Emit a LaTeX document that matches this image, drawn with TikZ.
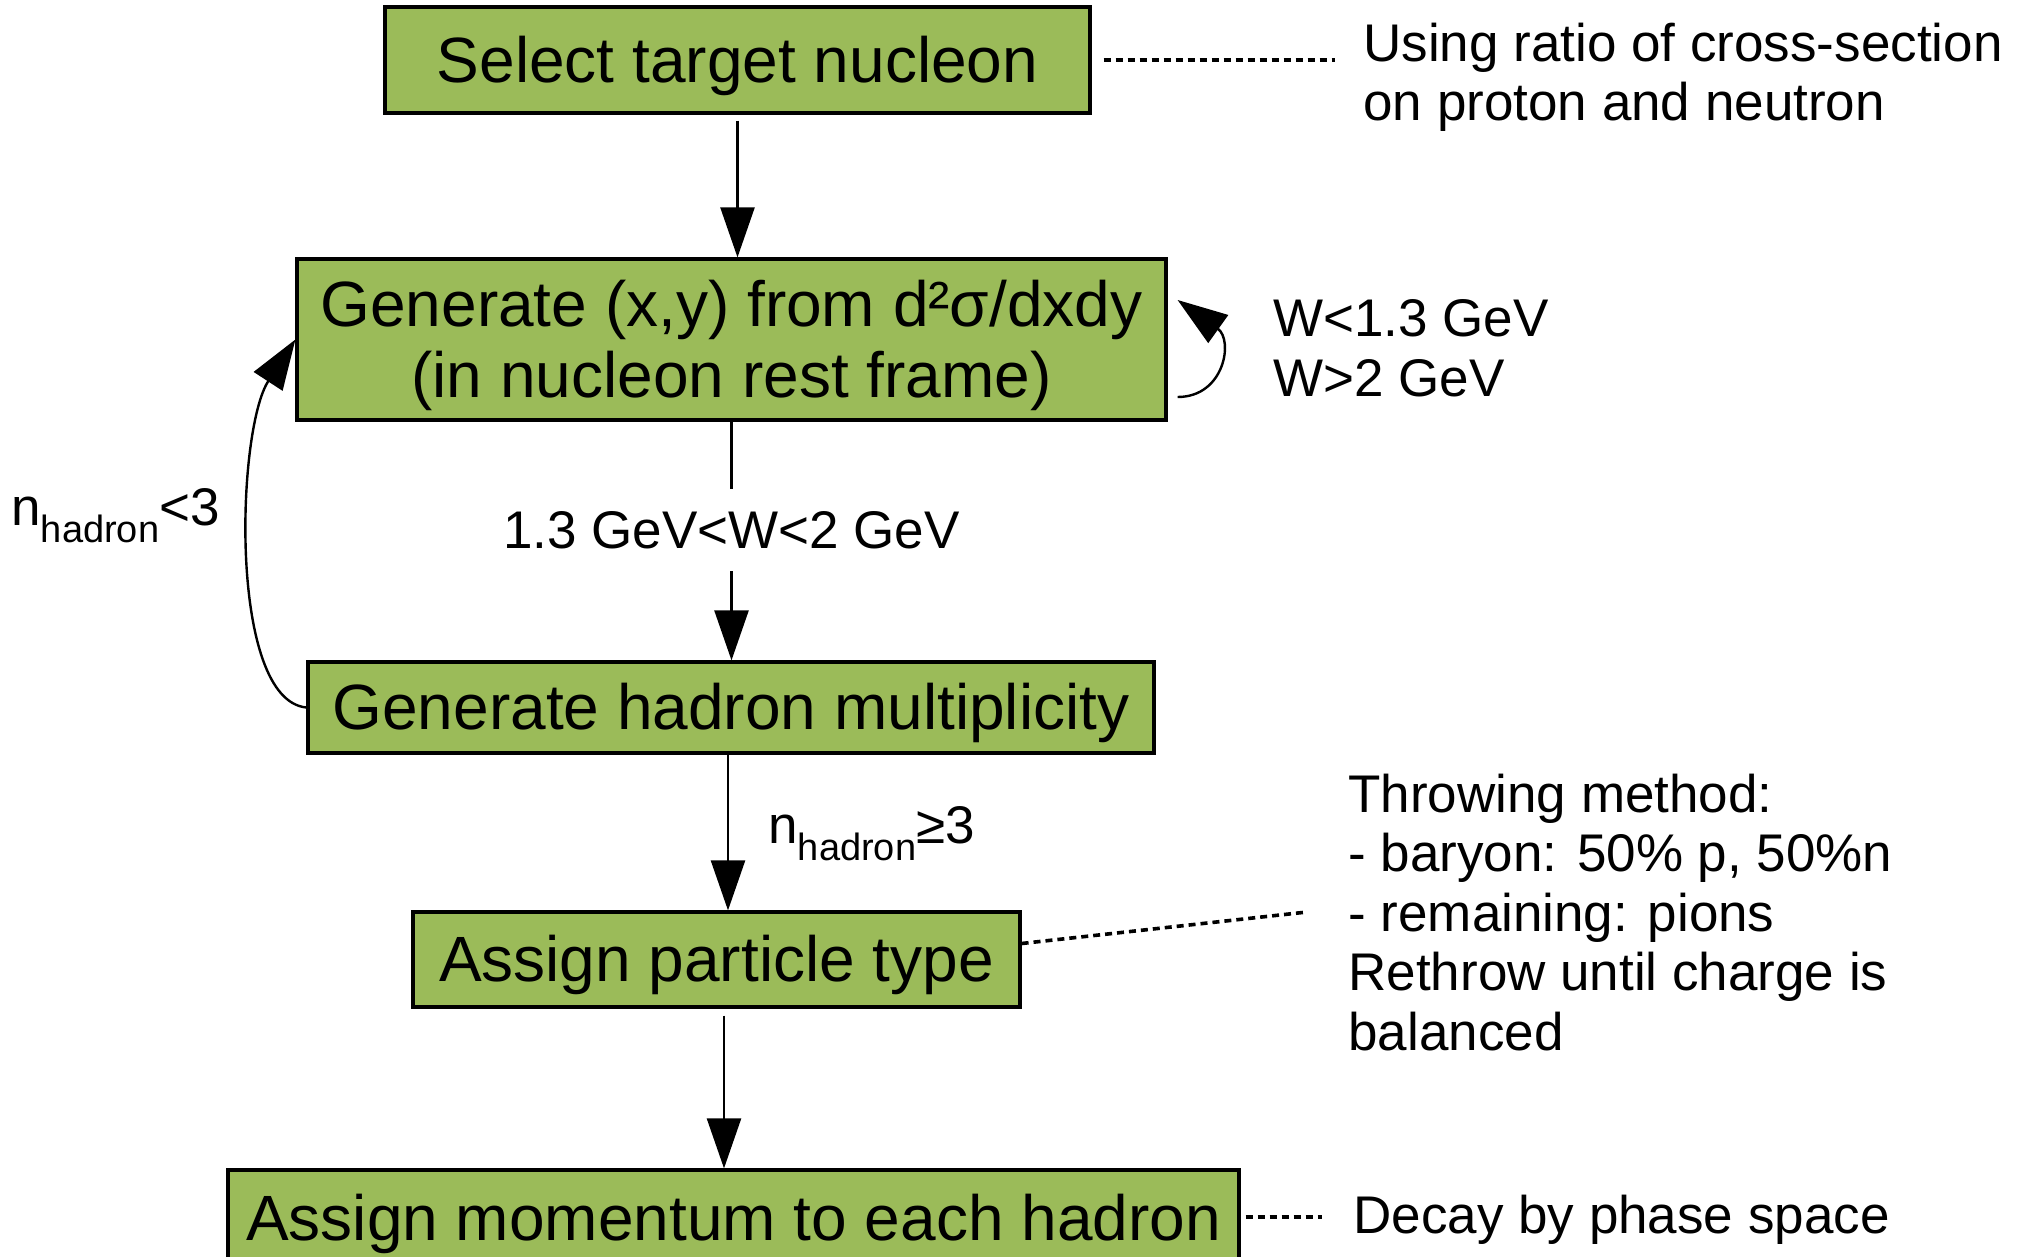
\documentclass[tikz,border=0pt]{standalone}
\usepackage{fontspec}
\setmainfont{Liberation Sans}
\usetikzlibrary{arrows.meta,calc}
\definecolor{boxgreen}{HTML}{9BBB59}
\newcommand{\nhadron}{n\raisebox{-8.5pt}{\fontsize{19}{19}\selectfont hadron}}
\begin{document}
\begin{tikzpicture}[x=0.5pt,y=-0.5pt,
  stepbox/.style={draw=black, line width=1.6pt, fill=boxgreen, inner sep=0pt,
    align=center, font=\fontsize{32}{35.5}\selectfont, text height=29pt, text depth=6.8pt},
  arr/.style={line width=1.2pt, -{Triangle[length=25pt,width=17pt]}},
  note/.style={inner sep=0pt, align=left, font=\fontsize{26.5}{29.75}\selectfont},
  link/.style={line width=1.8pt, dash pattern=on 3.5pt off 2.5pt}]
\useasboundingbox (0,0) rectangle (2028,1257);
\clip (0,0) rectangle (2028,1257);

% process steps
\node[stepbox, minimum width=352.5pt, minimum height=53pt] (select) at (737.5,60) {Select target nucleon};
\node[stepbox, minimum width=434.5pt, minimum height=80.5pt, text height=64.5pt] (genxy) at (731.5,339.5)
  {Generate (x,y) from d²σ/dxdy\\(in nucleon rest frame)};
\node[stepbox, minimum width=423pt, minimum height=45.5pt] (mult) at (731,707.5) {Generate hadron multiplicity};
\node[stepbox, minimum width=303.5pt, minimum height=47.5pt] (ptype) at (716.5,959.5) {Assign particle type};
\node[stepbox, minimum width=505.5pt, minimum height=48pt] (mom) at (733.5,1218) {Assign momentum to each hadron};

% side notes (multi-line notes are placed by the baseline of their last line)
\node[note, anchor=base west] (nratio) at (1363,121) {Using ratio of cross-section\\on proton and neutron};
\node[note, anchor=base west] (nw) at (1273,396) {W<1.3 GeV\\W>2 GeV};
\node[note, anchor=base west] (nlow) at (11,525) {\nhadron<3};
\node[note, anchor=base west] (nhigh) at (768,843) {\nhadron≥3};
\node[note, anchor=base west] (nthrow) at (1348,1050)
  {Throwing method:\\- baryon: 50\% p, 50\%n\\- remaining: pions\\Rethrow until charge is\\balanced};
\node[note, anchor=base west] (ndecay) at (1353,1233) {Decay by phase space};

% main flow
\draw[arr] ($(select.south)+(0,6)$) -- (select.south |- genxy.north);
\draw[arr] (genxy.south) -- node[note, fill=white, pos=0.455, minimum height=41pt, inner xsep=2pt] {1.3 GeV<W<2 GeV}
  (genxy.south |- mult.north);
\draw[arr] ($(mult.south)+(-3,0)$) -- ($(mult.south |- ptype.north)+(-3,0)$);
\draw[arr] ($(ptype.south)+(7.5,7)$) -- ($(ptype.south |- mom.north)+(7.5,0)$);

% rejection loops
\draw[arr] ($(genxy.east)+(10,57.5)$) .. controls +(47,0) and +(56,40) .. ($(genxy.east)+(10,-39.5)$);
\draw[arr] (mult.west) .. controls +(-78,-7.5) and +(-59,90.5) .. (genxy.west);

% links to side notes
\draw[link] ($(select.east)+(12,0)$) -- (1335,60);
\draw[link] ($(ptype.east)+(0,-16)$) -- (1307,912);
\draw[link] ($(mom.east)+(5,-1)$) -- (1322,1217);
\end{tikzpicture}
\end{document}
